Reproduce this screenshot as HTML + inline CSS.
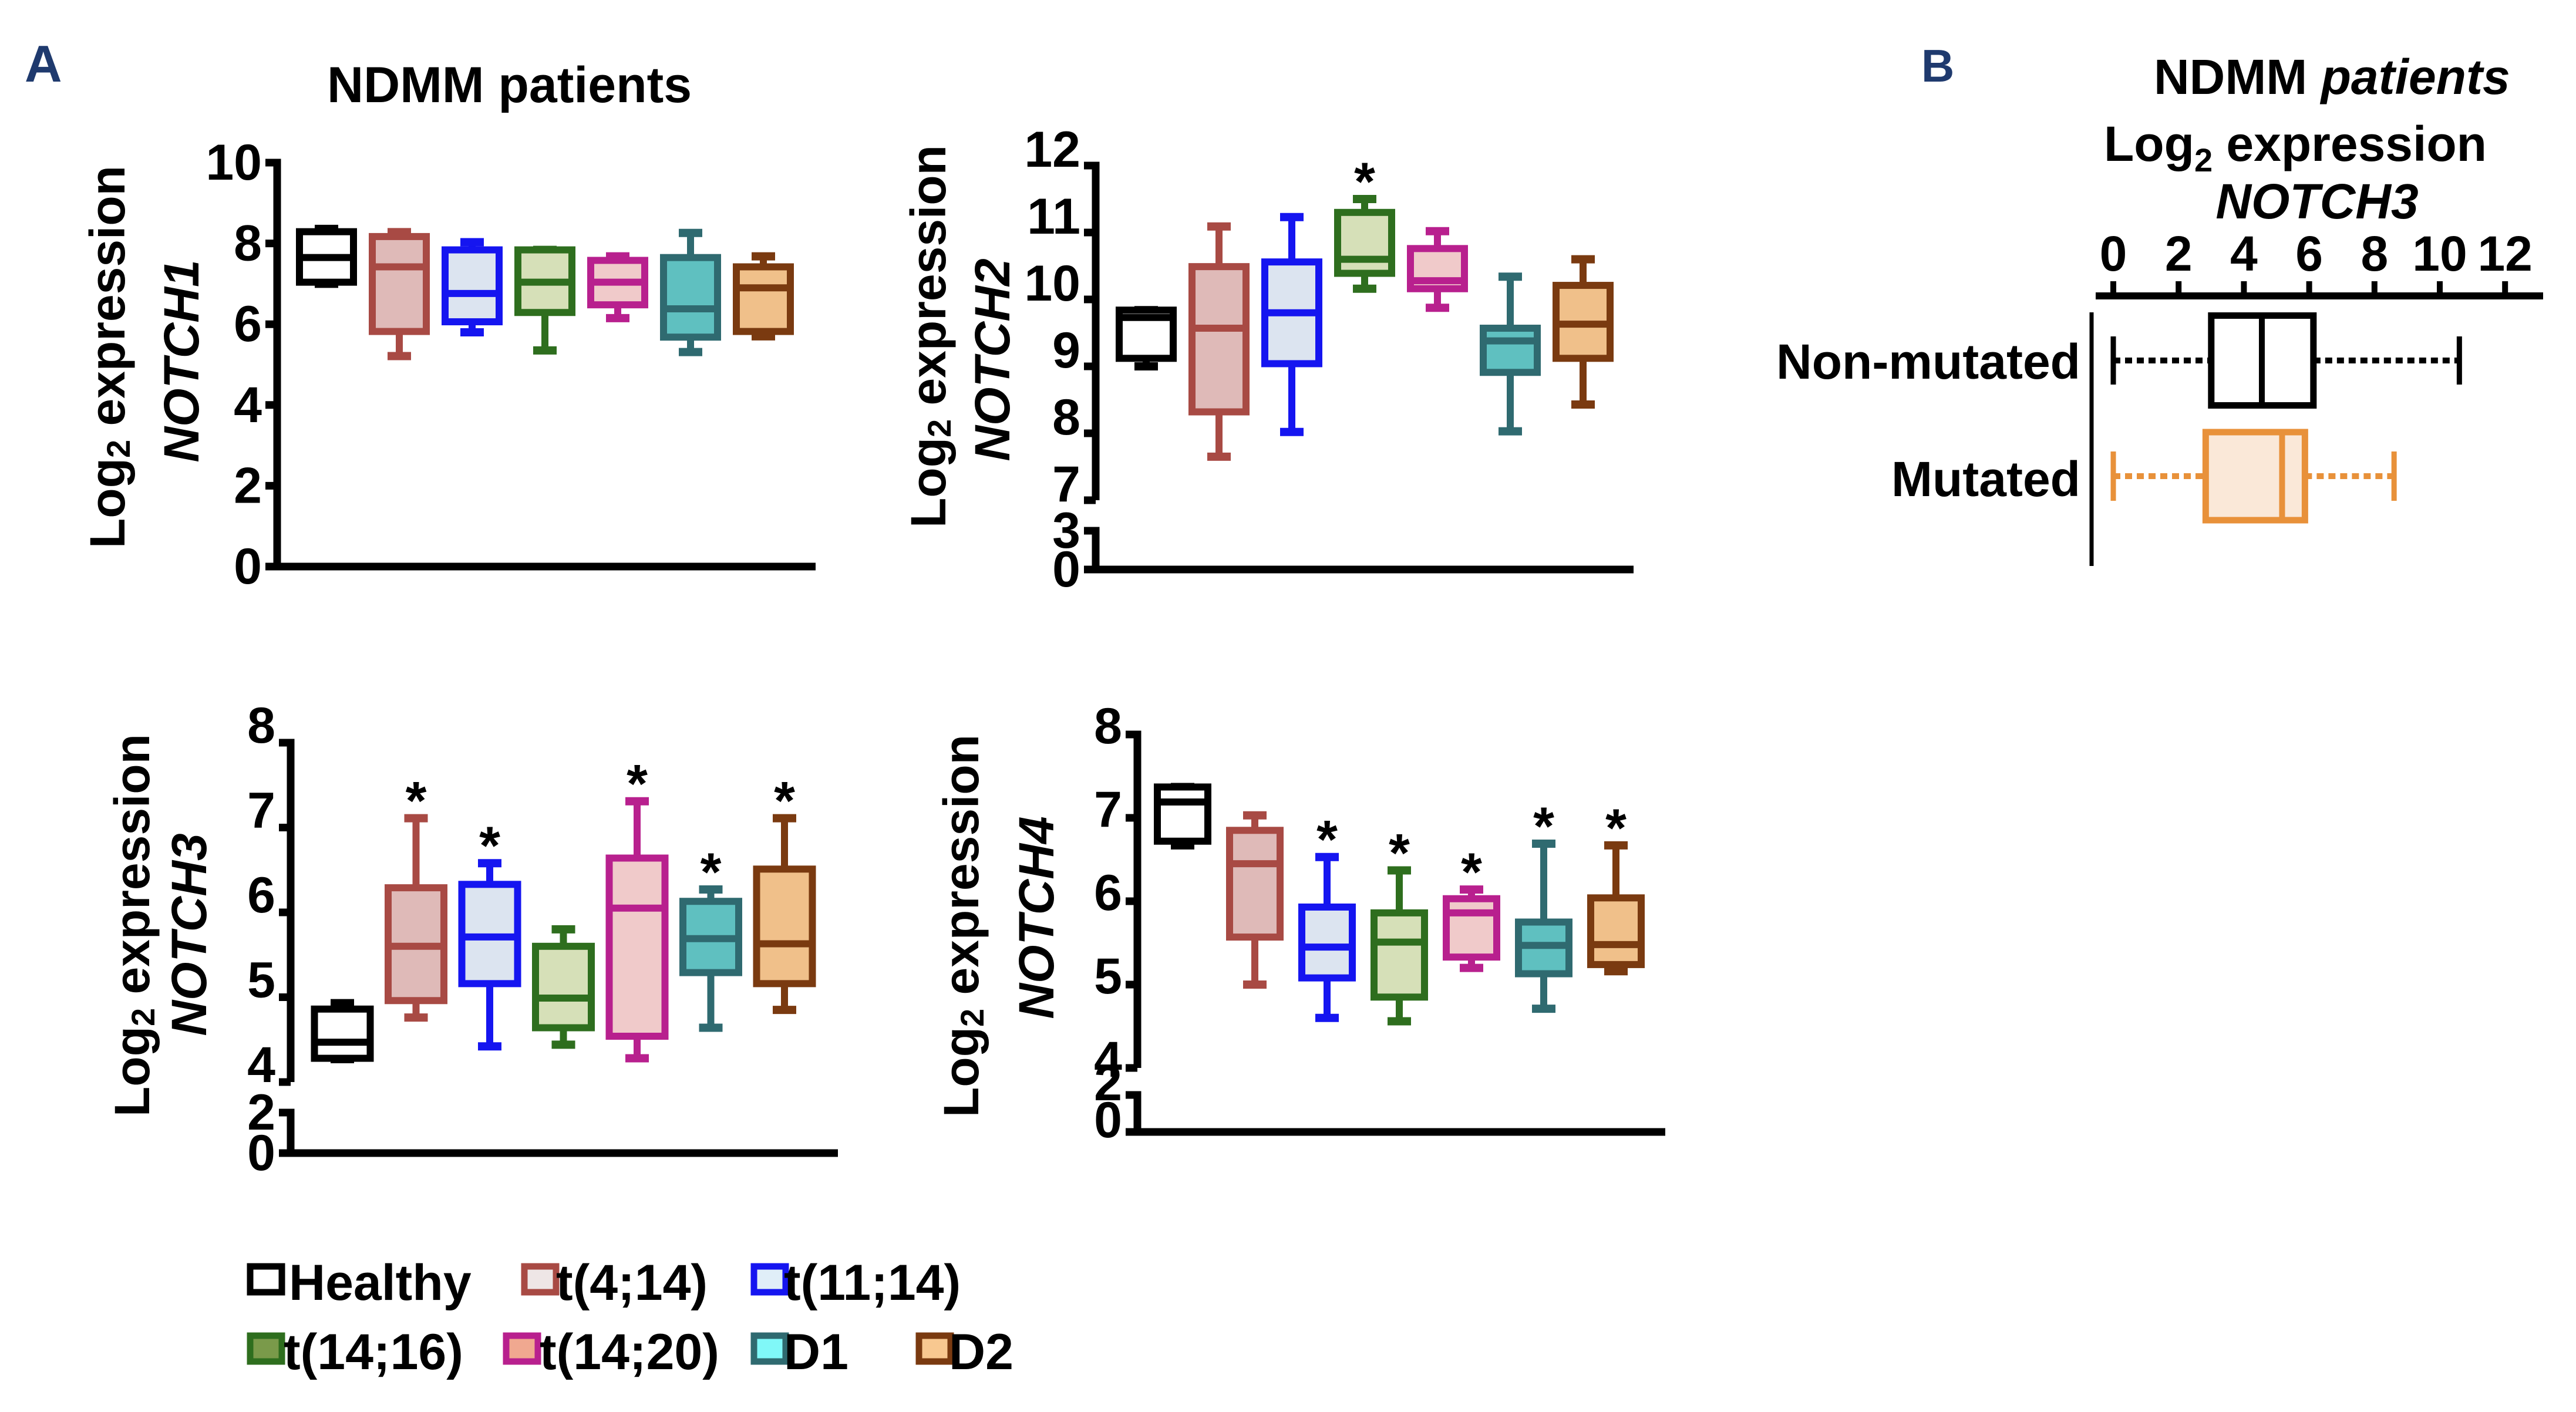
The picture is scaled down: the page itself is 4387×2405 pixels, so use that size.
<!DOCTYPE html>
<html><head><meta charset="utf-8"><style>
html,body{margin:0;padding:0;background:#fff;}
svg{display:block;font-family:"Liberation Sans",Arial,sans-serif;font-weight:bold;}
</style></head><body>
<svg id="fig" width="4387" height="2405" viewBox="0 0 4387 2405" xmlns="http://www.w3.org/2000/svg">
<rect width="4387" height="2405" fill="#fff"/>
<text x="42" y="139" font-size="88" fill="#1F3A6E">A</text>
<text x="557" y="174" font-size="86">NDMM patients</text>
<text x="3272" y="139" font-size="78" fill="#1F3A6E">B</text>
<text x="3668" y="160" font-size="84">NDMM <tspan font-style="italic">patients</tspan></text>
<text x="3583" y="274" font-size="84">Log<tspan font-size="56" dy="18">2</tspan><tspan dy="-18"> expression</tspan></text>
<text x="3946" y="372" font-size="84" font-style="italic" text-anchor="middle">NOTCH3</text>
<g id="plots"></g>
</svg>
<script>
// ---------- DATA ----------
const groups = ["Healthy","t(4;14)","t(11;14)","t(14;16)","t(14;20)","D1","D2"];
const n1Low  = [7.0, 5.21, 5.8, 5.35, 6.15, 5.31, 5.7];
const n1Q1   = [7.04, 5.82, 6.06, 6.29, 6.48, 5.68, 5.82];
const n1Med  = [7.65, 7.42, 6.76, 7.04, 7.04, 6.38, 6.9];
const n1Q3   = [8.29, 8.17, 7.84, 7.84, 7.58, 7.65, 7.42];
const n1High = [8.36, 8.28, 8.03, 7.84, 7.68, 8.26, 7.68];
const n1Star = [0,0,0,0,0,0,0];
const n2Low  = [9.0, 7.65, 8.02, 10.16, 9.875, 8.03, 8.43];
const n2Q1   = [9.12, 8.32, 9.04, 10.39, 10.16, 8.91, 9.12];
const n2Med  = [9.73, 9.57, 9.8, 10.6, 10.28, 9.38, 9.63];
const n2Q3   = [9.84, 10.49, 10.56, 11.3, 10.76, 9.57, 10.21];
const n2High = [9.84, 11.09, 11.23, 11.5, 11.02, 10.34, 10.6];
const n2Star = [0,0,0,1,0,0,0];
const n3Low  = [4.27, 4.76, 4.42, 4.44, 4.28, 4.64, 4.85];
const n3Q1   = [4.28, 4.96, 5.16, 4.64, 4.54, 5.29, 5.16];
const n3Med  = [4.47, 5.6, 5.71, 4.99, 6.05, 5.69, 5.63];
const n3Q3   = [4.86, 6.29, 6.33, 5.6, 6.64, 6.13, 6.51];
const n3High = [4.93, 7.11, 6.58, 5.8, 7.31, 6.27, 7.11];
const n3Star = [0,1,1,0,1,1,1];
const n4Low  = [6.67, 5.0, 4.6, 4.56, 5.2, 4.71, 5.16];
const n4Q1   = [6.72, 5.57, 5.08, 4.85, 5.33, 5.13, 5.24];
const n4Med  = [7.19, 6.45, 5.45, 5.51, 5.86, 5.47, 5.48];
const n4Q3   = [7.37, 6.85, 5.93, 5.86, 6.03, 5.75, 6.04];
const n4High = [7.37, 7.03, 6.53, 6.37, 6.14, 6.69, 6.67];
const n4Star = [0,0,1,1,1,1,1];
const n1Ticks = ["0","2","4","6","8","10"];
const n2UpperTicks = ["7","8","9","10","11","12"];
const n2LowerTicks = ["0","3"];
const n34UpperTicks = ["4","5","6","7","8"];
const n34LowerTicks = ["0","2"];
const bLabels = ["Non-mutated","Mutated"];
const bLow  = [0.0, 0.0];
const bQ1   = [3.0, 2.83];
const bMed  = [4.55, 5.17];
const bQ3   = [6.13, 5.87];
const bHigh = [10.6, 8.6];
const bTicks = ["0","2","4","6","8","10","12"];

// ---------- STYLE ----------
const strokes = ["#000000","#A84A44","#1515F0","#2E6E1E","#B8208E","#2F6A70","#7A3A10"];
const fills   = ["#FFFFFF","#DFBAB8","#DCE4F0","#D6E0B8","#F0CACA","#5FC0C0","#F0C08A"];
const legFill = ["#FFFFFF","#EEE6E6","#E0EEF8","#7A9A4A","#F0A890","#80F8F8","#F8C890"];
const NS = "http://www.w3.org/2000/svg";
const root = document.getElementById("plots");
function mk(tag, attrs, parent){
  const e = document.createElementNS(NS, tag);
  for (const k in attrs) e.setAttribute(k, attrs[k]);
  (parent||root).appendChild(e);
  return e;
}

function drawPanel(p){
  const g = mk("g", {});
  
  
  const SW = 13;
  // axis segments
  p.segments.forEach(s=>{
    const a = mk("line",{x1:p.ax,y1:s[0]-SW/2,x2:p.ax,y2:s[1],stroke:"#000","stroke-width":SW},g);
    
    
  });
  const xa = mk("line",{x1:p.ax-SW/2,y1:p.y0,x2:p.xEnd,y2:p.y0,stroke:"#000","stroke-width":SW},g);
  
  
  // ticks
  p.ticks.forEach(t=>{
    const y = p.y(+t.v);
    const tk = mk("line",{x1:p.ax-20,y1:y,x2:p.ax,y2:y,stroke:"#000","stroke-width":SW},g);
    
    
    const tl = mk("text",{x:p.ax-26,y:y+t.off,"font-size":86,"text-anchor":"end","dominant-baseline":"central"},g);
    tl.textContent = t.v;
    
    
  });
  // labels
  const l1 = mk("text",{transform:`translate(${p.lx1},${p.ly}) rotate(-90)`,"font-size":84,"text-anchor":"middle","dominant-baseline":"central"},g);
  l1.innerHTML = 'Log<tspan font-size="56" dy="18">2</tspan><tspan dy="-18"> expression</tspan>';
  
  
  const l2 = mk("text",{transform:`translate(${p.lx2},${p.ly2}) rotate(-90)`,"font-size":84,"font-style":"italic","text-anchor":"middle","dominant-baseline":"central"},g);
  l2.textContent = p.gene;
  
  
  // boxes
  const bw = p.bw, cw = 40, BS = 12;
  groups.forEach((grp,i)=>{
    const cx = p.ax + p.off + i*p.sp;
    const bg = mk("g",{},g);
    
    
    const yl=p.y(p.low[i]), yq1=p.y(p.q1[i]), ym=p.y(p.med[i]), yq3=p.y(p.q3[i]), yh=p.y(p.high[i]);
    mk("line",{x1:cx,y1:yh,x2:cx,y2:yq3,stroke:strokes[i],"stroke-width":BS},bg);
    mk("line",{x1:cx,y1:yq1,x2:cx,y2:yl,stroke:strokes[i],"stroke-width":BS},bg);
    mk("line",{x1:cx-cw/2,y1:yh,x2:cx+cw/2,y2:yh,stroke:strokes[i],"stroke-width":BS+2},bg);
    mk("line",{x1:cx-cw/2,y1:yl,x2:cx+cw/2,y2:yl,stroke:strokes[i],"stroke-width":BS+2},bg);
    mk("rect",{x:cx-bw/2,y:yq3,width:bw,height:Math.max(yq1-yq3,1),fill:fills[i],stroke:strokes[i],"stroke-width":BS},bg);
    mk("line",{x1:cx-bw/2,y1:ym,x2:cx+bw/2,y2:ym,stroke:strokes[i],"stroke-width":BS},bg);
    if (p.star[i]) {
      const st = mk("text",{x:cx,y:yh-48+50,"font-size":92,"text-anchor":"middle"},g);
      st.textContent = "*";
      
      
    }
  });
}

// Panel 1 NOTCH1
(function(){
  const y0=965, y10=277;
  drawPanel({name:"notch1-panel",gene:"NOTCH1",ax:472,xEnd:1389,y0:y0,off:84,sp:124,bw:92,
    y:v=>y0-v*(y0-y10)/10,segments:[[y10,y0]],
    ticks:n1Ticks.map(v=>({v:v,off:0})),
    lx1:183,ly:608,lx2:309,ly2:615,
    low:n1Low,q1:n1Q1,med:n1Med,q3:n1Q3,high:n1High,star:n1Star});
})();
// Panel 2 NOTCH2
(function(){
  const y0=970,y3=904,y7=852,y12=282;
  drawPanel({name:"notch2-panel",gene:"NOTCH2",ax:1866,xEnd:2782,y0:y0,off:86,sp:124,bw:92,
    y:v=>v>=7? y7-(v-7)*(y7-y12)/5 : y0-v*(y0-y3)/3,segments:[[y12,y7],[y3,y0]],
    ticks:n2UpperTicks.map(v=>({v:v,off:-27})).concat(n2LowerTicks.map(v=>({v:v,off:0}))),
    lx1:1581,ly:573,lx2:1690,ly2:613,
    low:n2Low,q1:n2Q1,med:n2Med,q3:n2Q3,high:n2High,star:n2Star});
})();
// Panel 3 NOTCH3
(function(){
  const y0=1964,y2=1895,y4=1843,y8=1265;
  drawPanel({name:"notch3-panel",gene:"NOTCH3",ax:495,xEnd:1427,y0:y0,off:88,sp:125.5,bw:95,
    y:v=>v>=4? y4-(v-4)*(y4-y8)/4 : y0-v*(y0-y2)/2,segments:[[y8,y4],[y2,y0]],
    ticks:n34UpperTicks.map(v=>({v:v,off:-29})).concat(n34LowerTicks.map(v=>({v:v,off:0}))),
    lx1:225,ly:1576,lx2:322,ly2:1592,
    low:n3Low,q1:n3Q1,med:n3Med,q3:n3Q3,high:n3High,star:n3Star});
})();
// Panel 4 NOTCH4
(function(){
  const y0=1928,y2=1865,y4=1819,y8=1251;
  drawPanel({name:"notch4-panel",gene:"NOTCH4",ax:1937,xEnd:2836,y0:y0,off:77,sp:123,bw:86,
    y:v=>v>=4? y4-(v-4)*(y4-y8)/4 : y0-v*(y0-y2)/2,segments:[[y8,y4],[y2,y0]],
    ticks:n34UpperTicks.map(v=>({v:v,off:-14})).concat(n34LowerTicks.map(v=>({v:v,off:-20}))),
    lx1:1637,ly:1577,lx2:1765,ly2:1563,
    low:n4Low,q1:n4Q1,med:n4Med,q3:n4Q3,high:n4High,star:n4Star});
})();

// Panel B
(function(){
  const g = mk("g",{});
  
  
  const x = v=>3599 + v*55.6;
  const axY = 504;
  const xl = mk("line",{x1:3569,y1:axY,x2:4331,y2:axY,stroke:"#000","stroke-width":12},g);
  
  
  bTicks.forEach(t=>{
    const tx = x(+t);
    const tk = mk("line",{x1:tx,y1:axY,x2:tx,y2:479,stroke:"#000","stroke-width":10},g);
    
    
    const tl = mk("text",{x:tx,y:461,"font-size":84,"text-anchor":"middle"},g);
    tl.textContent = t;
    
    
  });
  const vl = mk("line",{x1:3562,y1:532,x2:3562,y2:964,stroke:"#000","stroke-width":7},g);
  
  
  const rowY = [614, 811];
  const rowH = [153, 150];
  const bStroke = ["#000000","#E8913A"];
  const bFill = ["#FFFFFF","#FAE8D8"];
  const capH = [82, 84];
  const labY = [645, 845];
  bLabels.forEach((lab,i)=>{
    const rg = mk("g",{},g);
    
    
    const cy = rowY[i];
    mk("line",{x1:x(bLow[i]),y1:cy,x2:x(bQ1[i]),y2:cy,stroke:bStroke[i],"stroke-width":10,"stroke-dasharray":"12 8"},rg);
    mk("line",{x1:x(bQ3[i]),y1:cy,x2:x(bHigh[i]),y2:cy,stroke:bStroke[i],"stroke-width":10,"stroke-dasharray":"12 8"},rg);
    mk("line",{x1:x(bLow[i]),y1:cy-capH[i]/2,x2:x(bLow[i]),y2:cy+capH[i]/2,stroke:bStroke[i],"stroke-width":9},rg);
    mk("line",{x1:x(bHigh[i]),y1:cy-capH[i]/2,x2:x(bHigh[i]),y2:cy+capH[i]/2,stroke:bStroke[i],"stroke-width":9},rg);
    mk("rect",{x:x(bQ1[i]),y:cy-rowH[i]/2,width:x(bQ3[i])-x(bQ1[i]),height:rowH[i],fill:bFill[i],stroke:bStroke[i],"stroke-width":11},rg);
    mk("line",{x1:x(bMed[i]),y1:cy-rowH[i]/2,x2:x(bMed[i]),y2:cy+rowH[i]/2,stroke:bStroke[i],"stroke-width":10},rg);
    const tl = mk("text",{x:3543,y:labY[i],"font-size":84,"text-anchor":"end"},g);
    tl.textContent = lab;
    
    
  });
})();

// Legend
(function(){
  const g = mk("g",{});
  
  
  const pos = [[421,2214],[888,2214],[1279,2214],[421,2332],[857,2332],[1279,2332],[1560,2332]];
  const tx = [492,947,1335,483,919,1335,1616];
  groups.forEach((grp,i)=>{
    const eg = mk("g",{},g);
    
    
    mk("rect",{x:pos[i][0]+5,y:pos[i][1]-57,width:54,height:44,fill:legFill[i],stroke:strokes[i],"stroke-width":11},eg);
    const t = mk("text",{x:tx[i],y:pos[i][1],"font-size":86},eg);
    t.textContent = grp;
  });
})();
</script>
</body></html>
